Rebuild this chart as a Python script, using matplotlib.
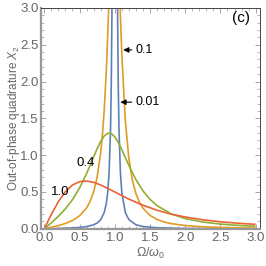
import numpy as np
import matplotlib
matplotlib.use('Agg')
import matplotlib.pyplot as plt
from matplotlib.ticker import MultipleLocator

plt.rcParams['font.family'] = ['Liberation Sans', 'DejaVu Sans']
plt.rcParams['mathtext.fontset'] = 'custom'
plt.rcParams['mathtext.rm'] = 'Liberation Sans'
plt.rcParams['mathtext.it'] = 'Liberation Sans:italic'

# --------------------------------------------------
# curves (Omega/omega0, X2)
# --------------------------------------------------
w_001 = [0.0, 0.2, 0.4, 0.5, 0.6, 0.7, 0.75, 0.8, 0.85, 0.88, 0.9, 0.92, 0.94,
         0.95, 0.96, 0.965, 0.98, 1.0, 1.02, 1.035, 1.04, 1.05, 1.06, 1.08,
         1.1, 1.15, 1.2, 1.3, 1.4, 1.6, 2.0, 2.5, 3.0]
x2_001 = [0.0, 0.0043, 0.0113, 0.0178, 0.0293, 0.0538, 0.0784, 0.123, 0.220,
          0.344, 0.494, 0.769, 1.352, 1.925, 2.947, 3.78, 10.0, 50.0, 9.96,
          3.76, 2.933, 1.918, 1.348, 0.767, 0.493, 0.220, 0.124, 0.0546,
          0.0304, 0.0131, 0.0044, 0.0018, 0.0009]

w_01 = [0.0, 0.1, 0.2, 0.3, 0.4, 0.5, 0.6, 0.65, 0.7, 0.75, 0.8, 0.825, 0.85,
        0.88, 0.9, 0.91, 0.92, 0.95, 1.0, 1.05, 1.07, 1.08, 1.09, 1.1, 1.15,
        1.2, 1.25, 1.3, 1.35, 1.4, 1.5, 1.6, 1.7, 1.8, 2.0, 2.25, 2.5, 2.75, 3.0]
x2_01 = [0.0, 0.0204, 0.0433, 0.0721, 0.112, 0.175, 0.283, 0.371, 0.501,
         0.701, 1.031, 1.277, 1.605, 2.149, 2.628, 2.904, 3.20, 4.17, 5.0,
         3.85, 3.20, 2.905, 2.63, 2.378, 1.466, 0.955, 0.660, 0.478, 0.360,
         0.280, 0.182, 0.126, 0.0922, 0.070, 0.0437, 0.0269, 0.018, 0.0127,
         0.0093]

w_04 = [0.0, 0.1, 0.2, 0.3, 0.4, 0.5, 0.6, 0.7, 0.75, 0.8, 0.85, 0.9, 0.95,
        1.0, 1.05, 1.1, 1.2, 1.3, 1.4, 1.5, 1.6, 1.8, 2.0, 2.25, 2.5, 2.75, 3.0]
x2_04 = [0.0, 0.081, 0.169, 0.271, 0.396, 0.554, 0.750, 0.976, 1.088, 1.187,
         1.261, 1.298, 1.294, 1.250, 1.173, 1.075, 0.861, 0.668, 0.515, 0.400,
         0.314, 0.203, 0.138, 0.0912, 0.0634, 0.0459, 0.0344]

w_10 = [0.0, 0.1, 0.2, 0.3, 0.4, 0.5, 0.6, 0.7, 0.8, 0.9, 1.0, 1.2, 1.4, 1.6,
        1.8, 2.0, 2.25, 2.5, 2.75, 3.0]
x2_10 = [0.0, 0.196, 0.370, 0.505, 0.595, 0.640, 0.649, 0.631, 0.595, 0.549,
         0.500, 0.403, 0.320, 0.252, 0.198, 0.160, 0.122, 0.095, 0.075, 0.060]

curves = [(w_001, x2_001, '#5E81B5'),
          (w_01, x2_01, '#E19C24'),
          (w_04, x2_04, '#8FB032'),
          (w_10, x2_10, '#EB6235')]

fig = plt.figure(figsize=(2.66, 2.66), dpi=100)
ax = fig.add_axes([0.156, 0.140, 0.821, 0.830])

for w, x2, col in curves:
    ax.plot(w, x2, color=col, lw=1.2, solid_capstyle='butt')

ax.set_xlim(-0.04, 3.06)
ax.set_ylim(0, 3.0)

# labels on the curves
arrow = dict(arrowstyle='-|>', color='black', lw=0.8,
             mutation_scale=8, shrinkA=1, shrinkB=0)
ax.annotate('0.1', xy=(1.12, 2.43), xytext=(1.30, 2.43), fontsize=9,
            va='center', ha='left', arrowprops=arrow)
ax.annotate('0.01', xy=(1.08, 1.72), xytext=(1.30, 1.72), fontsize=9,
            va='center', ha='left', arrowprops=arrow)
ax.text(0.59, 0.90, '0.4', fontsize=9.5, ha='center', va='center')
ax.text(0.22, 0.50, '1.0', fontsize=9.5, ha='center', va='center')
ax.text(2.79, 2.86, '(c)', fontsize=11, ha='center', va='center')

ax.xaxis.set_major_locator(MultipleLocator(0.5))
ax.xaxis.set_minor_locator(MultipleLocator(0.1))
ax.yaxis.set_major_locator(MultipleLocator(0.5))
ax.yaxis.set_minor_locator(MultipleLocator(0.1))
ax.xaxis.set_major_formatter(plt.FuncFormatter(lambda v, p: f'{v:.1f}'))
ax.yaxis.set_major_formatter(plt.FuncFormatter(lambda v, p: f'{v:.1f}'))
ax.tick_params(which='both', direction='in', top=True, right=True,
               colors='#999999', labelcolor='#666666', labelsize=9.5, pad=2)
ax.tick_params(which='major', length=3.5, width=0.6)
ax.tick_params(which='minor', length=2, width=0.5)

for side in ['left', 'bottom']:
    ax.spines[side].set_color('#999999')
    ax.spines[side].set_linewidth(1.6)
for side in ['top', 'right']:
    ax.spines[side].set_color('#444444')
    ax.spines[side].set_linewidth(0.7)

ax.set_xlabel(r'$\Omega/\omega_0$', fontsize=9, color='#666666', labelpad=2)
ax.set_ylabel(r'Out-of-phase quadrature $X_2$', fontsize=8.5, color='#666666',
              labelpad=-1)

fig.savefig('out.png', dpi=100)
